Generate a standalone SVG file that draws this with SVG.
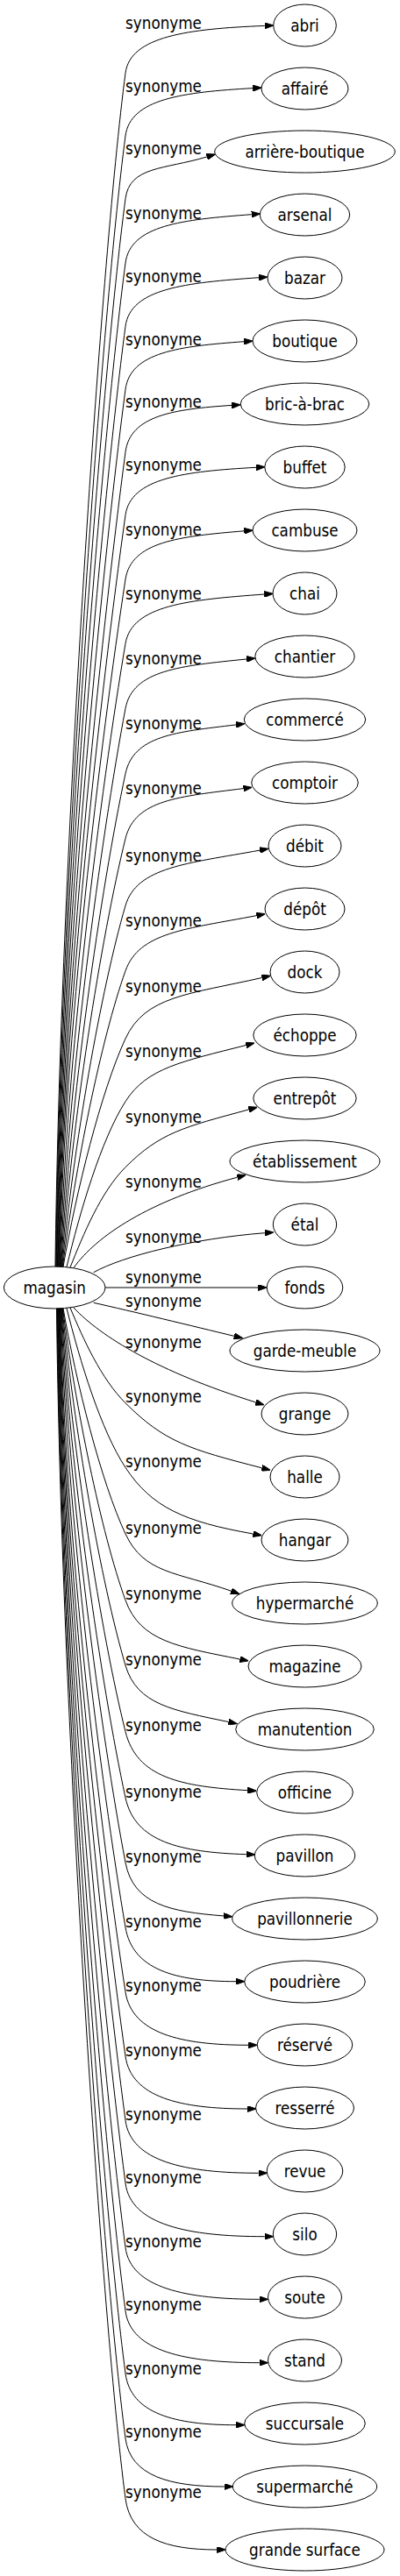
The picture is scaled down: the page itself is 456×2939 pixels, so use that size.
<svg xmlns="http://www.w3.org/2000/svg" width="456" height="2939" viewBox="0 0 456 2939">
<style>
.n ellipse{fill:none;stroke:#000;stroke-width:1}
text{font-family:"DejaVu Sans Condensed","DejaVu Sans",sans-serif;font-stretch:condensed;font-size:18.67px;fill:#000}
.n text{text-anchor:middle}
.lbl{text-anchor:middle}
#edges path{fill:none;stroke:#000;stroke-width:1;marker-end:url(#ah)}
</style>
<defs>
<marker id="ah" markerWidth="10" markerHeight="7" refX="0" refY="3.5" orient="auto" markerUnits="userSpaceOnUse"><path d="M0,0 L10,3.5 L0,7 z" fill="#000" stroke="#000" stroke-width="1"/></marker>
</defs>
<rect width="456" height="2939" fill="#fff"/>
<g id="edges">
<path d="M63,1445.2 C68,995.8 115,296.1 143,83.3 C148.5,41.3 214.5,32.9 301.7,29.4"/>
<path d="M63.6,1445.2 C68.6,1019.4 115,367.8 143,155 C148.6,112.6 208.6,105.2 288.3,100.6"/>
<path d="M64.2,1445.2 C69.2,1043.1 115,439.5 143,226.7 C147.9,189.4 186.9,193.6 235.9,178.9"/>
<path d="M64.8,1445.2 C69.8,1067.3 115,512.8 143,300 C148.7,256.9 207.9,250.5 286.7,244.7"/>
<path d="M65.4,1445.2 C70.4,1091.1 115,585.1 143,372.3 C148.7,328.9 211.6,322.6 295,316.7"/>
<path d="M66,1445.2 C71,1114.9 115,657.1 143,444.3 C148.6,401.7 204.1,395.1 278.3,389.7"/>
<path d="M66.6,1445.2 C71.6,1138.5 115,728.5 143,515.7 C148.5,474.1 197.7,466.8 264.3,462.4"/>
<path d="M67.2,1445.2 C72.2,1162.2 115,787.9 143,587.7 C148.9,545.3 210.1,537.8 292,533.3"/>
<path d="M67.8,1445.2 C73.1,1186.4 115,844.1 143,661 C149.6,617.9 204.2,612 278.3,605.8"/>
<path d="M68.4,1445.2 C75.2,1210.6 115,900.1 143,734.3 C150.4,690.4 214.5,684.4 301.3,678"/>
<path d="M69,1445.2 C77.3,1235 115,957 143,808.3 C151.3,764.4 205.5,759.7 281,752"/>
<path d="M69.6,1445.2 C79.4,1259.6 115,1014 143,882.7 C152.3,839.2 200.2,835.2 269.1,826.9"/>
<path d="M70.2,1445.2 C81.4,1284 115,1070.7 143,956.7 C153.9,912.2 204.1,908.9 277.4,899.6"/>
<path d="M70.8,1445.2 C83.6,1309.3 115,1129.3 143,1033.3 C155.9,989.1 213.3,985.2 296.2,970.1"/>
<path d="M71.4,1445.2 C85.6,1333.8 115,1186.4 143,1107.7 C158.7,1063.5 211.8,1060.1 292.5,1044.6"/>
<path d="M72,1445.2 C87,1359.3 115,1245.8 143,1185 C165.4,1136.3 215.1,1134.4 298.6,1115.5"/>
<path d="M76,1445.5 C91,1383.2 115,1300.7 143,1256.7 C167.5,1218.2 207.2,1211.3 280.3,1192.5"/>
<path d="M80,1446 C95,1408.3 115,1359.7 143,1331.7 C182.5,1292.2 209,1286.1 283.6,1265.9"/>
<path d="M84,1446.5 C110,1410 170,1370 270.5,1343.2"/>
<path d="M106.7,1451.7 C140,1433 220,1413 301.8,1406.7"/>
<path d="M120,1469 L294.3,1469"/>
<path d="M106.7,1486.3 C150,1496 220,1513 267,1524.4"/>
<path d="M84,1492 C115,1525 180,1565 291.5,1599.9"/>
<path d="M80,1492 C95,1527.9 115,1572.7 143,1600.7 C187.5,1645.2 215.7,1653.5 298.6,1674.8"/>
<path d="M76,1492.5 C91,1552.5 115,1631.7 143,1674.3 C172.9,1719.7 209.7,1736.1 288.5,1750"/>
<path d="M72,1492.8 C87,1577.7 115,1690.1 143,1750 C164.3,1795.6 201,1793.3 263.6,1815.2"/>
<path d="M71.5,1492.8 C85.8,1602.7 115,1748.1 143,1825.7 C160,1872.8 203.1,1878.9 273.5,1893"/>
<path d="M71,1492.8 C83.9,1627.2 115,1805.1 143,1900 C156.3,1945.2 197.4,1951.3 260.7,1964.6"/>
<path d="M70.5,1492.8 C81.8,1652.2 115,1863.1 143,1975.7 C156,2028 205.9,2038.3 282.3,2042.7"/>
<path d="M70,1492.8 C79.8,1677 115,1920.8 143,2051 C153.9,2101.5 205,2113.2 280.7,2115.7"/>
<path d="M69.5,1492.8 C77.9,1701.4 115,1977.4 143,2125 C152,2172.5 193.6,2181.2 255,2185.9"/>
<path d="M69,1492.8 C75.9,1725.8 115,2034.1 143,2199 C151.2,2247.1 199.7,2260.7 269,2260.7"/>
<path d="M68.5,1492.8 C73.9,1750.2 115,2090.7 143,2272.7 C150.3,2320 206.1,2333.3 283.3,2333.3"/>
<path d="M68,1492.8 C73,1774.4 115,2146.9 143,2346 C149.6,2392.8 205.5,2406 282,2406"/>
<path d="M67.5,1492.8 C72.5,1798.5 115,2206.5 143,2419.3 C149.2,2466.1 211.3,2479.3 294.7,2479.3"/>
<path d="M67,1492.8 C72,1822.2 115,2278.2 143,2491 C149.2,2538.3 214.4,2551.7 301.7,2551.7"/>
<path d="M66.5,1492.8 C71.5,1846.4 115,2351.5 143,2564.3 C149.1,2610.3 211.7,2623.3 295.7,2623.3"/>
<path d="M66,1492.8 C71,1870.3 115,2423.9 143,2636.7 C149.1,2682.7 211.7,2695.7 295.7,2695.7"/>
<path d="M65.5,1492.8 C70.5,1893.8 115,2495.2 143,2708 C149,2753.8 199.7,2766.7 269,2766.7"/>
<path d="M65,1492.8 C70,1918.2 115,2569.2 143,2782 C148.6,2824.9 193.7,2837 255.7,2837"/>
<path d="M64.5,1492.8 C69.5,1940.9 115,2637.9 143,2850.7 C149,2896.2 189.9,2909 247.3,2909"/>
<g id="labels">
<text class="lbl" x="186.5" y="32.8">synonyme</text>
<text class="lbl" x="186.5" y="104.5">synonyme</text>
<text class="lbl" x="186.5" y="176.2">synonyme</text>
<text class="lbl" x="186.5" y="249.5">synonyme</text>
<text class="lbl" x="186.5" y="321.8">synonyme</text>
<text class="lbl" x="186.5" y="393.8">synonyme</text>
<text class="lbl" x="186.5" y="465.2">synonyme</text>
<text class="lbl" x="186.5" y="537.2">synonyme</text>
<text class="lbl" x="186.5" y="610.5">synonyme</text>
<text class="lbl" x="186.5" y="683.8">synonyme</text>
<text class="lbl" x="186.5" y="757.8">synonyme</text>
<text class="lbl" x="186.5" y="832.2">synonyme</text>
<text class="lbl" x="186.5" y="906.2">synonyme</text>
<text class="lbl" x="186.5" y="982.8">synonyme</text>
<text class="lbl" x="186.5" y="1057.2">synonyme</text>
<text class="lbl" x="186.5" y="1131.8">synonyme</text>
<text class="lbl" x="186.5" y="1206.2">synonyme</text>
<text class="lbl" x="186.5" y="1281.2">synonyme</text>
<text class="lbl" x="186.5" y="1354.5">synonyme</text>
<text class="lbl" x="186.5" y="1417.8">synonyme</text>
<text class="lbl" x="186.5" y="1463.5">synonyme</text>
<text class="lbl" x="186.5" y="1491.2">synonyme</text>
<text class="lbl" x="186.5" y="1537.8">synonyme</text>
<text class="lbl" x="186.5" y="1600.2">synonyme</text>
<text class="lbl" x="186.5" y="1673.8">synonyme</text>
<text class="lbl" x="186.5" y="1749.5">synonyme</text>
<text class="lbl" x="186.5" y="1825.2">synonyme</text>
<text class="lbl" x="186.5" y="1899.5">synonyme</text>
<text class="lbl" x="186.5" y="1975.2">synonyme</text>
<text class="lbl" x="186.5" y="2050.5">synonyme</text>
<text class="lbl" x="186.5" y="2124.5">synonyme</text>
<text class="lbl" x="186.5" y="2198.5">synonyme</text>
<text class="lbl" x="186.5" y="2272.2">synonyme</text>
<text class="lbl" x="186.5" y="2345.5">synonyme</text>
<text class="lbl" x="186.5" y="2418.8">synonyme</text>
<text class="lbl" x="186.5" y="2490.5">synonyme</text>
<text class="lbl" x="186.5" y="2563.8">synonyme</text>
<text class="lbl" x="186.5" y="2636.2">synonyme</text>
<text class="lbl" x="186.5" y="2708.5">synonyme</text>
<text class="lbl" x="186.5" y="2780.5">synonyme</text>
<text class="lbl" x="186.5" y="2850.2">synonyme</text>
</g>
</g>
<g id="magasin" class="n"><ellipse cx="62.2" cy="1469" rx="57.8" ry="24"/><text x="62.2" y="1475.5">magasin</text></g>
<g id="abri" class="n"><ellipse cx="347.5" cy="29" rx="35.8" ry="24"/><text x="347.5" y="35.5">abri</text></g>
<g id="affaire" class="n"><ellipse cx="347.5" cy="101" rx="49.5" ry="24"/><text x="347.5" y="107.5">affairé</text></g>
<g id="arriere-boutique" class="n"><ellipse cx="347.5" cy="173" rx="102.8" ry="24"/><text x="347.5" y="179.5">arrière-boutique</text></g>
<g id="arsenal" class="n"><ellipse cx="347.5" cy="245" rx="51.2" ry="24"/><text x="347.5" y="251.5">arsenal</text></g>
<g id="bazar" class="n"><ellipse cx="347.5" cy="317" rx="42.5" ry="24"/><text x="347.5" y="323.5">bazar</text></g>
<g id="boutique" class="n"><ellipse cx="347.5" cy="389" rx="59.5" ry="24"/><text x="347.5" y="395.5">boutique</text></g>
<g id="bric-a-brac" class="n"><ellipse cx="347.5" cy="461" rx="73.3" ry="24"/><text x="347.5" y="467.5">bric-à-brac</text></g>
<g id="buffet" class="n"><ellipse cx="347.5" cy="533" rx="45.7" ry="24"/><text x="347.5" y="539.5">buffet</text></g>
<g id="cambuse" class="n"><ellipse cx="347.5" cy="605" rx="59.5" ry="24"/><text x="347.5" y="611.5">cambuse</text></g>
<g id="chai" class="n"><ellipse cx="347.5" cy="677" rx="36.5" ry="24"/><text x="347.5" y="683.5">chai</text></g>
<g id="chantier" class="n"><ellipse cx="347.5" cy="749" rx="56.7" ry="24"/><text x="347.5" y="755.5">chantier</text></g>
<g id="commerce" class="n"><ellipse cx="347.5" cy="821" rx="69.2" ry="24"/><text x="347.5" y="827.5">commercé</text></g>
<g id="comptoir" class="n"><ellipse cx="347.5" cy="893" rx="60.8" ry="24"/><text x="347.5" y="899.5">comptoir</text></g>
<g id="debit" class="n"><ellipse cx="347.5" cy="965" rx="41.5" ry="24"/><text x="347.5" y="971.5">débit</text></g>
<g id="depot" class="n"><ellipse cx="347.5" cy="1037" rx="45.5" ry="24"/><text x="347.5" y="1043.5">dépôt</text></g>
<g id="dock" class="n"><ellipse cx="347.5" cy="1109" rx="39.5" ry="24"/><text x="347.5" y="1115.5">dock</text></g>
<g id="echoppe" class="n"><ellipse cx="347.5" cy="1181" rx="58.7" ry="24"/><text x="347.5" y="1187.5">échoppe</text></g>
<g id="entrepot" class="n"><ellipse cx="347.5" cy="1253" rx="58.7" ry="24"/><text x="347.5" y="1259.5">entrepôt</text></g>
<g id="etablissement" class="n"><ellipse cx="347.5" cy="1325" rx="85.5" ry="24"/><text x="347.5" y="1331.5">établissement</text></g>
<g id="etal" class="n"><ellipse cx="347.5" cy="1397" rx="36.2" ry="24"/><text x="347.5" y="1403.5">étal</text></g>
<g id="fonds" class="n"><ellipse cx="347.5" cy="1469" rx="43.3" ry="24"/><text x="347.5" y="1475.5">fonds</text></g>
<g id="garde-meuble" class="n"><ellipse cx="347.5" cy="1541" rx="85.5" ry="24"/><text x="347.5" y="1547.5">garde-meuble</text></g>
<g id="grange" class="n"><ellipse cx="347.5" cy="1613" rx="49.5" ry="24"/><text x="347.5" y="1619.5">grange</text></g>
<g id="halle" class="n"><ellipse cx="347.5" cy="1685" rx="39.5" ry="24"/><text x="347.5" y="1691.5">halle</text></g>
<g id="hangar" class="n"><ellipse cx="347.5" cy="1757" rx="49.5" ry="24"/><text x="347.5" y="1763.5">hangar</text></g>
<g id="hypermarche" class="n"><ellipse cx="347.5" cy="1829" rx="82.8" ry="24"/><text x="347.5" y="1835.5">hypermarché</text></g>
<g id="magazine" class="n"><ellipse cx="347.5" cy="1901" rx="64.5" ry="24"/><text x="347.5" y="1907.5">magazine</text></g>
<g id="manutention" class="n"><ellipse cx="347.5" cy="1973" rx="78.8" ry="24"/><text x="347.5" y="1979.5">manutention</text></g>
<g id="officine" class="n"><ellipse cx="347.5" cy="2045" rx="54.8" ry="24"/><text x="347.5" y="2051.5">officine</text></g>
<g id="pavillon" class="n"><ellipse cx="347.5" cy="2117" rx="57.3" ry="24"/><text x="347.5" y="2123.5">pavillon</text></g>
<g id="pavillonnerie" class="n"><ellipse cx="347.5" cy="2189" rx="82.8" ry="24"/><text x="347.5" y="2195.5">pavillonnerie</text></g>
<g id="poudriere" class="n"><ellipse cx="347.5" cy="2261" rx="68.8" ry="24"/><text x="347.5" y="2267.5">poudrière</text></g>
<g id="reserve" class="n"><ellipse cx="347.5" cy="2333" rx="54.3" ry="24"/><text x="347.5" y="2339.5">réservé</text></g>
<g id="resserre" class="n"><ellipse cx="347.5" cy="2405" rx="56" ry="24"/><text x="347.5" y="2411.5">resserré</text></g>
<g id="revue" class="n"><ellipse cx="347.5" cy="2477" rx="43.3" ry="24"/><text x="347.5" y="2483.5">revue</text></g>
<g id="silo" class="n"><ellipse cx="347.5" cy="2549" rx="36.2" ry="24"/><text x="347.5" y="2555.5">silo</text></g>
<g id="soute" class="n"><ellipse cx="347.5" cy="2621" rx="42" ry="24"/><text x="347.5" y="2627.5">soute</text></g>
<g id="stand" class="n"><ellipse cx="347.5" cy="2693" rx="42" ry="24"/><text x="347.5" y="2699.5">stand</text></g>
<g id="succursale" class="n"><ellipse cx="347.5" cy="2765" rx="68.8" ry="24"/><text x="347.5" y="2771.5">succursale</text></g>
<g id="supermarche" class="n"><ellipse cx="347.5" cy="2837" rx="82.2" ry="24"/><text x="347.5" y="2843.5">supermarché</text></g>
<g id="grande-surface" class="n"><ellipse cx="347.5" cy="2909" rx="90.5" ry="24"/><text x="347.5" y="2915.5">grande surface</text></g>
</svg>
